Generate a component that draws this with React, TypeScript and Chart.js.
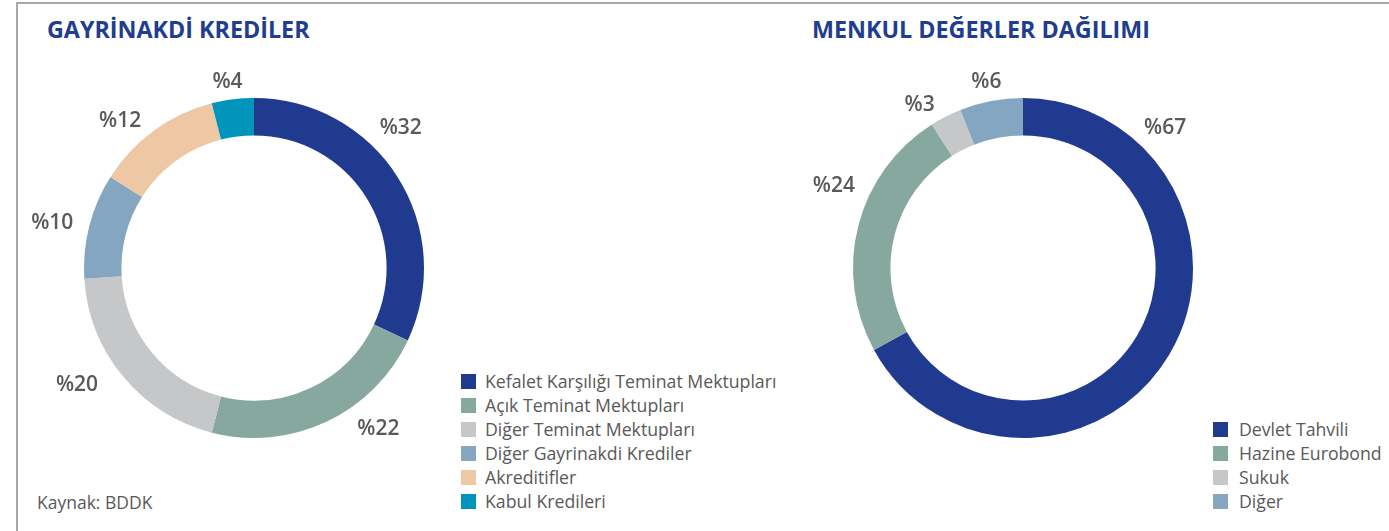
import React, { useEffect, useRef } from "react";
import { Chart, registerables } from "chart.js";

Chart.register(...registerables);

// ---------- data ----------
const leftTitle = "GAYRİNAKDİ KREDİLER";
const leftCategories = [
  "Kefalet Karşılığı Teminat Mektupları",
  "Açık Teminat Mektupları",
  "Diğer Teminat Mektupları",
  "Diğer Gayrinakdi Krediler",
  "Akreditifler",
  "Kabul Kredileri",
];
const leftValues = [32, 22, 20, 10, 12, 4];

const rightTitle = "MENKUL DEĞERLER DAĞILIMI";
const rightCategories = ["Devlet Tahvili", "Hazine Eurobond", "Sukuk", "Diğer"];
const rightValues = [67, 24, 3, 6];

const sourceText = "Kaynak: BDDK";

// ---------- styles ----------
const leftColors = ["#1f3a8f", "#86a89f", "#c6c7c9", "#84a6c1", "#eec8a4", "#0094bb"];
const rightColors = ["#1f3a8f", "#86a89f", "#c6c7c9", "#84a6c1"];

// label placement (angle clockwise from top in degrees, distance from centre in px)
const leftLabelAngles = [46, 142, 237, 283, 318, 352];
const leftLabelRadii = [204, 202, 211, 207, 200, 190];
const rightLabelAngles = [45, 294, 328, 349];
const rightLabelRadii = [201, 207, 195, 192];

const TITLE_COLOR = "#213d8f";
const TEXT_COLOR = "#595959";
const FONT = "'Open Sans', 'Noto Sans', sans-serif";

const outsideLabels = {
  id: "outsideLabels",
  afterDatasetsDraw(chart: any, _args: any, opts: any) {
    const meta = chart.getDatasetMeta(0);
    const values = chart.data.datasets[0].data;
    const ctx = chart.ctx;
    ctx.save();
    ctx.font = opts.font;
    ctx.fillStyle = opts.color;
    ctx.textAlign = "center";
    ctx.textBaseline = "middle";
    meta.data.forEach((arc: any, i: number) => {
      const { x, y } = arc.getProps(["x", "y"], true);
      const a = (opts.angles[i] * Math.PI) / 180;
      const r = opts.radii[i];
      ctx.fillText("%" + values[i], x + r * Math.sin(a), y - r * Math.cos(a) + 2);
    });
    ctx.restore();
  },
};

type DProps = {
  labels: string[];
  values: number[];
  colors: string[];
  angles: number[];
  radii: number[];
  left: number;
  top: number;
  width: number;
  height: number;
  padding: { left: number; right: number; top: number; bottom: number };
};

function Doughnut(p: DProps) {
  const ref = useRef<HTMLCanvasElement | null>(null);
  useEffect(() => {
    if (!ref.current) return;
    const chart = new Chart(ref.current, {
      type: "doughnut",
      data: {
        labels: p.labels,
        datasets: [
          {
            data: p.values,
            backgroundColor: p.colors,
            borderWidth: 0,
          },
        ],
      },
      options: {
        responsive: false,
        animation: false,
        cutout: "78%",
        layout: { padding: p.padding },
        plugins: {
          legend: { display: false },
          tooltip: { enabled: false },
          outsideLabels: {
            angles: p.angles,
            radii: p.radii,
            font: `600 21px ${FONT}`,
            color: TEXT_COLOR,
          },
        } as any,
      },
      plugins: [outsideLabels as any],
    });
    return () => chart.destroy();
  }, []);
  return (
    <canvas
      ref={ref}
      width={p.width}
      height={p.height}
      style={{ position: "absolute", left: p.left, top: p.top, width: p.width, height: p.height }}
    />
  );
}

function Legend(props: { labels: string[]; colors: string[]; left: number; top: number; gap: number }) {
  return (
    <div style={{ position: "absolute", left: props.left, top: props.top, fontFamily: FONT }}>
      {props.labels.map((l, i) => (
        <div key={l} style={{ display: "flex", alignItems: "center", height: 24 }}>
          <div style={{ width: 15, height: 15, background: props.colors[i], marginRight: props.gap, flex: "none" }} />
          <span style={{ fontSize: 17.7, lineHeight: "24px", color: TEXT_COLOR, whiteSpace: "nowrap" }}>{l}</span>
        </div>
      ))}
    </div>
  );
}

const titleStyle: React.CSSProperties = {
  position: "absolute",
  top: 15,
  fontSize: 23.3,
  lineHeight: "28px",
  fontWeight: 700,
  color: TITLE_COLOR,
  whiteSpace: "nowrap",
};

export default function App() {
  return (
    <div
      style={{
        position: "fixed",
        left: 0,
        top: 0,
        width: 1389,
        height: 531,
        background: "#fff",
        overflow: "hidden",
        fontFamily: FONT,
      }}
    >
      <div
        style={{
          position: "absolute",
          left: 16,
          top: 2,
          right: 0,
          bottom: 0,
          borderTop: "2px solid #a8a8a8",
          borderLeft: "2px solid #a8a8a8",
        }}
      />
      <div style={{ ...titleStyle, left: 47 }}>{leftTitle}</div>
      <div style={{ ...titleStyle, left: 812 }}>{rightTitle}</div>

      <Doughnut
        labels={leftCategories}
        values={leftValues}
        colors={leftColors}
        angles={leftLabelAngles}
        radii={leftLabelRadii}
        left={0}
        top={50}
        width={460}
        height={440}
        padding={{ left: 84, right: 36, top: 48, bottom: 52 }}
      />
      <Doughnut
        labels={rightCategories}
        values={rightValues}
        colors={rightColors}
        angles={rightLabelAngles}
        radii={rightLabelRadii}
        left={780}
        top={50}
        width={430}
        height={440}
        padding={{ left: 73, right: 17, top: 48, bottom: 52 }}
      />

      <Legend labels={leftCategories} colors={leftColors} left={461} top={369} gap={9} />
      <Legend labels={rightCategories} colors={rightColors} left={1213} top={417} gap={11} />

      <div
        style={{
          position: "absolute",
          left: 37,
          top: 491,
          fontSize: 17.5,
          lineHeight: "22px",
          color: TEXT_COLOR,
          whiteSpace: "nowrap",
        }}
      >
        {sourceText}
      </div>
    </div>
  );
}
